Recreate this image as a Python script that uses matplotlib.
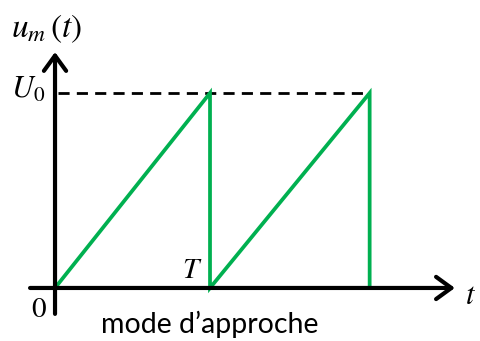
import matplotlib.pyplot as plt

plt.rcParams['mathtext.fontset'] = 'stix'

# Sawtooth signal u_m(t), in units of T and U0
t_points = [0.0, 1.0, 1.0, 2.03, 2.03]
u_points = [0.0, 1.0, 0.0, 1.0, 0.0]
t_peak_end = 2.03

green = '#00B050'

fig = plt.figure(figsize=(4.8, 3.41), dpi=100)
ax = fig.add_axes([0, 0, 1, 1])
ax.set_xlim(-0.355, 2.742)
ax.set_ylim(-0.272, 1.477)
ax.axis('off')

# Axes with arrows
arrow = dict(arrowstyle='->,head_length=0.55,head_width=0.4', lw=3, color='black',
             shrinkA=0, shrinkB=0, mutation_scale=20)
ax.annotate('', xy=(2.58, 0), xytext=(-0.161, 0), arrowprops=arrow)
ax.annotate('', xy=(0, 1.21), xytext=(0, -0.133), arrowprops=arrow)

# U0 level
ax.plot([0.02, t_peak_end], [1, 1], color='black', lw=2, linestyle=(0, (4, 2.6)))

# Signal
ax.plot(t_points, u_points, color=green, lw=2.7, solid_joinstyle='miter')

# Labels
ax.text(-0.285, 1.287, r'$u_{m}\,(t)$', fontsize=24, ha='left', va='baseline')
ax.text(-0.285, 0.974, r'$U_0$', fontsize=22, ha='left', va='baseline')
ax.text(0.884, 0.051, r'$T$', fontsize=21, ha='center', va='baseline')
ax.text(-0.106, -0.149, r'$\mathrm{0}$', fontsize=21, ha='center', va='baseline')
ax.text(2.68, -0.082, r'$t$', fontsize=22, ha='center', va='baseline')
ax.text(1.0, -0.232, "mode d\u2019approche", fontsize=20.5, family='Lato',
        ha='center', va='baseline')

fig.savefig('out.png', dpi=100)
